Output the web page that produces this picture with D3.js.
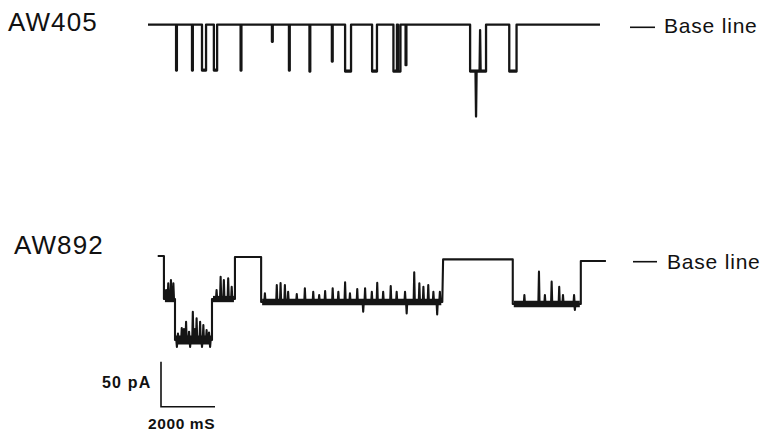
<!DOCTYPE html>
<html>
<head>
<meta charset="utf-8">
<script src="https://cdn.jsdelivr.net/npm/d3@7"></script>
<style>
  html, body { margin: 0; padding: 0; background: #fff; }
  svg { display: block; }
  text { font-family: "Liberation Sans", Arial, Helvetica, sans-serif; fill: #111; }
</style>
</head>
<body>
<svg id="chart" width="765" height="432"></svg>
<script>
// ---------------- DATA (time in seconds, current in pA, inward = negative) ----------------
const traceNames = ["AW405", "AW892"];
const baseLineLabel = "Base line";
const scaleBarValues = [50, 2000];            // pA, ms
const scaleBarLabels = ["50 pA", "2000 mS"];

// AW405: recording span and channel opening events [start, end, amplitude]
const topSpan = [0, 16.74];
const topEvents = [
  [1.04, 1.07, -51], [1.63, 1.66, -51], [2.00, 2.15, -51], [2.44, 2.56, -51],
  [3.43, 3.46, -51], [4.59, 4.62, -19], [5.22, 5.25, -51], [5.98, 6.01, -52],
  [6.81, 6.84, -41], [7.30, 7.52, -52], [8.30, 8.48, -52], [9.09, 9.22, -52],
  [9.26, 9.35, -52], [9.54, 9.57, -45], [11.93, 12.52, -52], [13.38, 13.65, -52]
];
// brief transitions inside AW405 openings [time, peak]
const topSpikes = [[12.15, -102], [12.30, -6]];

// AW892: current levels [start, end, level]
const botSegments = [
  [0.36, 0.59, 1.1],
  [0.59, 1.00, -46.7],
  [1.00, 2.37, -92.2],
  [2.37, 3.22, -46.7],
  [3.22, 4.19, 0],
  [4.19, 10.90, -50],
  [10.93, 13.51, -2.6],
  [13.51, 16.03, -52.2],
  [16.03, 16.96, -4.4]
];
// AW892 brief flickers [time, peak]
const botSpikes = [
  [0.67, -36.7], [0.75, -29.2], [0.85, -25.6], [0.94, -29.2],
  [1.07, -100], [1.11, -85], [1.25, -78.9], [1.33, -80], [1.41, -71.9], [1.52, -83],
  [1.56, -100], [1.66, -60.8], [1.74, -80], [1.80, -68.1], [1.93, -71.9], [2.00, -100],
  [2.05, -75.6], [2.17, -81.1], [2.26, -84], [2.30, -100],
  [2.54, -36.7], [2.69, -21.9], [2.81, -25.6], [2.97, -23.7], [3.10, -33.0],
  [4.33, -40.3], [4.77, -31.1], [4.91, -28.9], [5.07, -31.1], [5.19, -38.6],
  [5.51, -41.1], [5.81, -34.8], [6.12, -38.6], [6.34, -42.2], [6.56, -37.8],
  [6.84, -34.8], [7.05, -38.6], [7.30, -28.1], [7.48, -40.3], [7.75, -35.6],
  [7.97, -60.8], [8.04, -34.8], [8.29, -38.6], [8.49, -28.6], [8.71, -38.6],
  [8.99, -32.2], [9.21, -38.6], [9.52, -38.6], [9.58, -62.6], [9.86, -17.0],
  [10.05, -29.2], [10.20, -33.0], [10.38, -31.1], [10.57, -38.6], [10.71, -63.7],
  [10.81, -38.6],
  [13.94, -42.2], [14.48, -16.3], [14.70, -42.2], [14.95, -27.4], [15.23, -33.0],
  [15.37, -42.2], [15.78, -42.2], [15.81, -58.9]
];

// ---------------- SCALES ----------------
const svg = d3.select("#chart");
const x = d3.scaleLinear().domain([0, 17]).range([148, 607]);
const yTop = d3.scaleLinear().domain([0, -100]).range([24.7, 114.7]);
const yBot = d3.scaleLinear().domain([0, -100]).range([257, 347]);

function eventsToSegments(span, events) {
  const segs = [];
  let cursor = span[0];
  events.forEach(([s, e, a]) => {
    segs.push([cursor, s, 0]);
    segs.push([s, e, a]);
    cursor = e;
  });
  segs.push([cursor, span[1], 0]);
  return segs;
}

function buildPoints(segments, spikes, d) {
  const pts = [];
  segments.forEach(([t0, t1, lev]) => {
    pts.push([t0, lev]);
    spikes.filter(s => s[0] > t0 && s[0] < t1)
      .sort((a, b) => a[0] - b[0])
      .forEach(([t, p]) => { pts.push([t - d, lev], [t, p], [t + d, lev]); });
    pts.push([t1, lev]);
  });
  return pts;
}

const topSegments = eventsToSegments(topSpan, topEvents);

// ---------------- TRACES ----------------
const lineTop = d3.line().x(d => x(d[0])).y(d => yTop(d[1]));
const lineBot = d3.line().x(d => x(d[0])).y(d => yBot(d[1]));

// thicker bottoms on AW405 openings
svg.append("g").selectAll("line")
  .data(topEvents.filter(e => e[1] - e[0] > 0.1))
  .join("line")
  .attr("x1", d => x(d[0]) + 0.8).attr("x2", d => x(d[1]) - 0.8)
  .attr("y1", d => yTop(d[2]) - 0.8).attr("y2", d => yTop(d[2]) - 0.8)
  .attr("stroke", "#151515").attr("stroke-width", 2.5);

svg.append("path")
  .attr("d", lineTop(buildPoints(topSegments, topSpikes, 0.02)))
  .attr("fill", "none").attr("stroke", "#151515")
  .attr("stroke-width", 2.3).attr("stroke-linejoin", "round");

// open-channel noise band on AW892 open levels
svg.append("g").selectAll("line")
  .data(botSegments.filter(s => s[2] < -20))
  .join("line")
  .attr("x1", d => x(d[0]) + 1).attr("x2", d => x(d[1]) - 1)
  .attr("y1", d => yBot(d[2])).attr("y2", d => yBot(d[2]))
  .attr("stroke", "#151515")
  .attr("stroke-width", d => 3.5 + Math.abs(d[2]) * 0.06);

svg.append("path")
  .attr("d", lineBot(buildPoints(botSegments, botSpikes, 0.022)))
  .attr("fill", "none").attr("stroke", "#151515")
  .attr("stroke-width", 2.1).attr("stroke-linejoin", "round");

// ---------------- LABELS ----------------
svg.append("text").attr("x", 8).attr("y", 31)
  .attr("font-size", 26).attr("letter-spacing", 1.1).text(traceNames[0]);
svg.append("text").attr("x", 14).attr("y", 254)
  .attr("font-size", 26).attr("letter-spacing", 1.1).text(traceNames[1]);

const baseMarks = [
  { x1: 630, x2: 655, y: yTop(0) + 2.6, tx: 664, ty: 33.3 },
  { x1: 633, x2: 657, y: yBot(0) + 4.7, tx: 667, ty: 269 }
];
baseMarks.forEach(m => {
  svg.append("line").attr("x1", m.x1).attr("x2", m.x2)
    .attr("y1", m.y).attr("y2", m.y)
    .attr("stroke", "#111").attr("stroke-width", 1.6);
  svg.append("text").attr("x", m.tx).attr("y", m.ty)
    .attr("font-size", 21).attr("letter-spacing", 0.8).text(baseLineLabel);
});

// ---------------- SCALE BAR ----------------
const sbX = 161, sbY = 406.7;
const sbH = yBot(-scaleBarValues[0]) - yBot(0);
const sbW = x(scaleBarValues[1] / 1000) - x(0);
svg.append("path")
  .attr("d", `M${sbX},${sbY - sbH}V${sbY}H${sbX + sbW}`)
  .attr("fill", "none").attr("stroke", "#111").attr("stroke-width", 1.6);
svg.append("text").attr("x", 102).attr("y", 387.7)
  .attr("font-size", 16).attr("font-weight", "bold").attr("letter-spacing", 1.2)
  .text(scaleBarLabels[0]);
svg.append("text").attr("x", 148).attr("y", 429)
  .attr("font-size", 15.5).attr("font-weight", "bold").attr("letter-spacing", 0.6)
  .text(scaleBarLabels[1]);
</script>
</body>
</html>
